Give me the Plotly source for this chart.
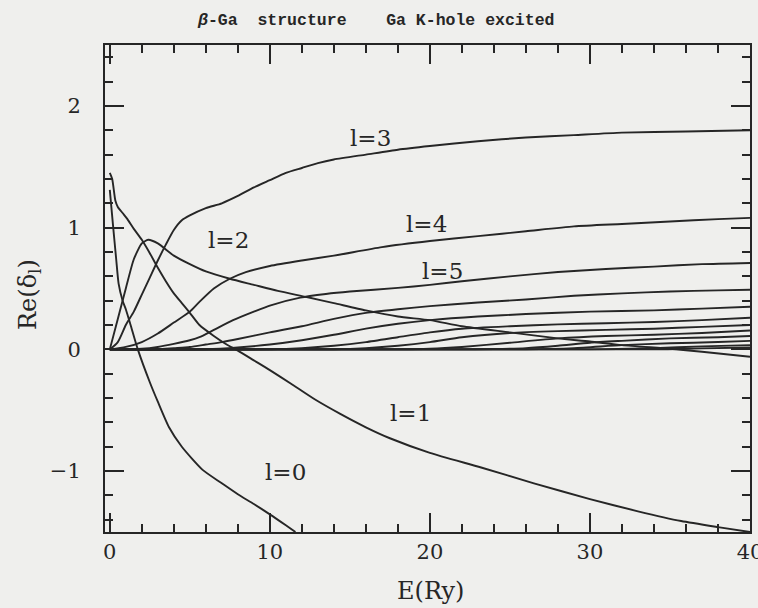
import plotly.graph_objects as go

# ---- data (E in Ry, Re(delta_l)) ----
E_L0 = [0, 0.2, 0.4, 0.55, 0.8, 1.0, 1.3, 1.75, 2.5, 3.0, 3.7, 4.5, 5.8, 7.0, 8.0, 9.0, 10.0, 11.0, 11.6]
D_L0 = [1.31, 1.02, 0.74, 0.54, 0.40, 0.33, 0.20, 0.0, -0.27, -0.43, -0.64, -0.80, -0.99, -1.10, -1.19, -1.27, -1.355, -1.445, -1.50]

E_L1 = [0, 0.15, 0.35, 0.5, 0.8, 1.1, 1.5, 2.0, 2.5, 3.0, 3.5, 4.0, 4.5, 5.0, 5.6, 6.5, 7.3, 8.0, 9.0, 10.0,
        11.3, 12.8, 14.4, 16.0, 17.5, 20.0, 23.2, 26.5, 30.0, 33.0, 35.7, 38.0, 40.0]
D_L1 = [1.45, 1.40, 1.22, 1.17, 1.12, 1.07, 0.99, 0.90, 0.79, 0.67, 0.56, 0.46, 0.38, 0.30, 0.20, 0.11, 0.04, -0.01, -0.09, -0.17,
        -0.28, -0.41, -0.53, -0.64, -0.73, -0.85, -0.97, -1.10, -1.23, -1.33, -1.41, -1.46, -1.50]

E_L2 = [0, 0.5, 1.0, 1.5, 2.0, 2.4, 3.0, 4.0, 5.0, 6.0, 7.5, 9.0, 10.5, 12.3, 14.0, 16.0, 18.0, 20.0, 22.0, 25.0, 28.0, 30.0, 32.0, 35.0, 37.0, 40.0]
D_L2 = [0, 0.25, 0.50, 0.74, 0.87, 0.90, 0.87, 0.77, 0.70, 0.64, 0.58, 0.53, 0.48, 0.43, 0.38, 0.32, 0.27, 0.24, 0.19, 0.14, 0.09, 0.065, 0.035, 0.005, -0.02, -0.06]

E_L3 = [0, 0.5, 1.0, 1.5, 2.0, 2.5, 3.0, 3.5, 4.0, 4.5, 5.0, 6.0, 7.0, 8.0, 9.0, 10.0, 11.0, 12.0, 13.0, 14.0, 16.0, 18.0, 20.0, 23.0, 26.0, 29.0, 32.0, 36.0, 40.0]
D_L3 = [0, 0.06, 0.20, 0.31, 0.45, 0.59, 0.73, 0.86, 0.98, 1.06, 1.10, 1.16, 1.20, 1.26, 1.33, 1.39, 1.45, 1.49, 1.53, 1.56, 1.60, 1.64, 1.67, 1.71, 1.74, 1.76, 1.78, 1.79, 1.80]

E_L4 = [0, 1.0, 2.0, 3.0, 4.0, 5.0, 5.6, 6.5, 7.5, 8.5, 10.0, 12.0, 14.0, 17.0, 20.0, 23.0, 26.0, 29.0, 32.0, 35.0, 38.0, 40.0]
D_L4 = [0, 0.02, 0.06, 0.13, 0.22, 0.31, 0.39, 0.50, 0.58, 0.635, 0.685, 0.73, 0.77, 0.84, 0.89, 0.93, 0.97, 1.01, 1.03, 1.05, 1.07, 1.08]

E_L5 = [0, 2.0, 3.0, 4.0, 5.0, 5.6, 6.5, 7.7, 9.0, 10.0, 11.9, 13.5, 15.0, 18.0, 20.0, 22.0, 25.0, 28.0, 31.0, 34.0, 37.0, 40.0]
D_L5 = [0, 0.005, 0.02, 0.045, 0.075, 0.10, 0.16, 0.24, 0.31, 0.36, 0.425, 0.455, 0.475, 0.505, 0.53, 0.56, 0.60, 0.635, 0.66, 0.68, 0.70, 0.71]

E_L6 = [0, 3.0, 4.0, 5.0, 6.0, 7.0, 8.0, 10.0, 12.0, 14.0, 16.0, 18.0, 20.0, 23.0, 26.0, 29.0, 32.0, 35.0, 38.0, 40.0]
D_L6 = [0, 0.0, 0.01, 0.02, 0.04, 0.06, 0.085, 0.14, 0.19, 0.25, 0.30, 0.33, 0.355, 0.385, 0.41, 0.44, 0.46, 0.475, 0.485, 0.49]

E_L7 = [0, 6.0, 8.0, 10.0, 12.0, 14.0, 16.0, 18.0, 20.0, 23.0, 26.0, 30.0, 34.0, 37.0, 40.0]
D_L7 = [0, 0.0, 0.015, 0.04, 0.075, 0.12, 0.17, 0.21, 0.24, 0.27, 0.29, 0.31, 0.32, 0.335, 0.35]

E_L8 = [0, 10.0, 12.0, 14.0, 16.0, 18.0, 20.0, 22.0, 25.0, 28.0, 31.0, 34.0, 37.0, 40.0]
D_L8 = [0, 0.0, 0.01, 0.03, 0.06, 0.10, 0.14, 0.17, 0.19, 0.205, 0.215, 0.225, 0.24, 0.26]

E_L9 = [0, 14.0, 16.0, 18.0, 20.0, 22.0, 25.0, 28.0, 31.0, 34.0, 37.0, 40.0]
D_L9 = [0, 0.0, 0.01, 0.03, 0.06, 0.10, 0.135, 0.15, 0.16, 0.17, 0.185, 0.20]

E_L10 = [0, 18.0, 20.0, 22.0, 25.0, 28.0, 31.0, 34.0, 37.0, 40.0]
D_L10 = [0, 0.0, 0.005, 0.02, 0.055, 0.09, 0.11, 0.12, 0.135, 0.155]

E_L11 = [0, 22.0, 24.0, 26.0, 28.0, 30.0, 32.0, 35.0, 38.0, 40.0]
D_L11 = [0, 0.0, 0.003, 0.01, 0.03, 0.055, 0.07, 0.09, 0.10, 0.11]

E_L12 = [0, 26.0, 29.0, 32.0, 35.0, 38.0, 40.0]
D_L12 = [0, 0.0, 0.01, 0.035, 0.05, 0.06, 0.07]

E_L13 = [0, 30.0, 34.0, 37.0, 40.0]
D_L13 = [0, 0.0, 0.01, 0.025, 0.035]

E_L14 = [0, 34.0, 37.0, 40.0]
D_L14 = [0, 0.0, 0.008, 0.015]

SERIES = [(E_L0, D_L0), (E_L1, D_L1), (E_L2, D_L2), (E_L3, D_L3), (E_L4, D_L4),
          (E_L5, D_L5), (E_L6, D_L6), (E_L7, D_L7), (E_L8, D_L8), (E_L9, D_L9),
          (E_L10, D_L10), (E_L11, D_L11), (E_L12, D_L12), (E_L13, D_L13), (E_L14, D_L14)]

LABELS = ["l=0", "l=1", "l=2", "l=3", "l=4", "l=5"]
LABEL_E = [10.95, 18.8, 7.4, 16.3, 19.8, 20.8]
LABEL_D = [-1.01, -0.52, 0.90, 1.74, 1.03, 0.64]

X_TICKS = [0, 10, 20, 30, 40]
Y_TICKS = [-1, 0, 1, 2]

INK = "#262626"
BG = "#efefed"
SERIF = "DejaVu Serif"

fig = go.Figure()
for i, (e, d) in enumerate(SERIES):
    fig.add_trace(go.Scatter(
        x=e, y=d, mode="lines", name=f"l={i}",
        line=dict(color=INK, width=1.9, shape="spline", smoothing=0.6),
        showlegend=False, hoverinfo="skip"))

for txt, ex, dy in zip(LABELS, LABEL_E, LABEL_D):
    fig.add_annotation(x=ex, y=dy, text=txt, showarrow=False,
                       xanchor="center", yanchor="middle",
                       font=dict(family=SERIF, size=23, color=INK))

fig.add_annotation(xref="paper", yref="paper", x=0.42, y=1.051,
                   xanchor="center", yanchor="middle",
                   text="<b><i>β</i>-Ga\u00a0\u00a0structure\u00a0\u00a0\u00a0\u00a0Ga K-hole excited</b>",
                   showarrow=False, font=dict(family="Liberation Mono", size=16.5, color=INK))
fig.add_annotation(xref="paper", yref="paper", x=0.504, y=-0.121,
                   xanchor="center", yanchor="middle",
                   text="E(Ry)", showarrow=False,
                   font=dict(family=SERIF, size=24, color=INK))
fig.add_annotation(xref="paper", yref="paper", x=-0.116, y=0.487,
                   xanchor="center", yanchor="middle",
                   text="Re(δ<sub>l</sub>)", showarrow=False, textangle=-90,
                   font=dict(family=SERIF, size=24, color=INK))

axis_common = dict(
    showgrid=False, zeroline=False, showline=True, linewidth=2, linecolor=INK,
    mirror="ticks", ticks="inside", ticklen=19, tickwidth=1.6, tickcolor=INK,
    tickfont=dict(family=SERIF, size=21, color=INK), ticklabeloverflow="allow",
    automargin=False,
)
fig.update_xaxes(range=[-0.3, 40], tickvals=X_TICKS,
                 minor=dict(dtick=2, tick0=0, ticks="inside", ticklen=8, tickwidth=1.6, tickcolor=INK),
                 **axis_common)
fig.update_yaxes(range=[-1.5, 2.5], tickvals=Y_TICKS, ticklabelstandoff=18,
                 minor=dict(dtick=0.2, tick0=0, ticks="inside", ticklen=8, tickwidth=1.6, tickcolor=INK),
                 **axis_common)

fig.update_layout(
    width=758, height=608,
    margin=dict(l=105, r=8, t=45, b=76),
    paper_bgcolor=BG, plot_bgcolor=BG,
)

fig.write_html(
    "out.html",
    config={"displayModeBar": False},
    post_script="document.body.style.margin='0';document.body.style.background='" + BG + "';",
)
